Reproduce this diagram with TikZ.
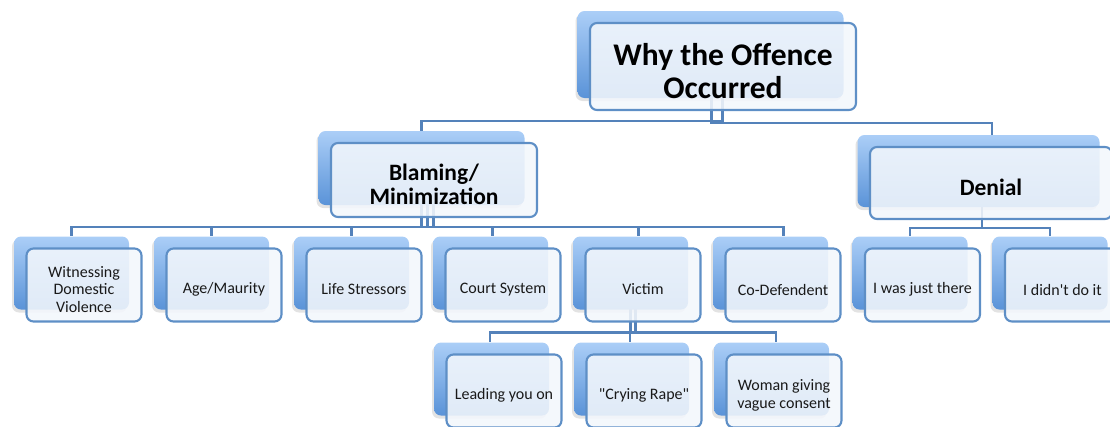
\documentclass[tikz,border=0pt]{standalone}
\usepackage{fontspec}
\setmainfont{Carlito}[Ligatures=TeXOff]
\usetikzlibrary{calc,shadows}

\definecolor{backtop}{HTML}{ABCEF7}
\definecolor{backbot}{HTML}{5A93D8}
\definecolor{edge}{HTML}{5E8FC6}
\definecolor{wire}{HTML}{5482BA}
\definecolor{face}{HTML}{F3F7FC}

\pgfdeclarelayer{wires}
\pgfsetlayers{wires,main}

\tikzset{
  backbox/.style={rounded corners=7pt, top color=backtop, bottom color=backbot,
    draw=none, inner sep=0pt,
    drop shadow={shadow xshift=-2pt, shadow yshift=-3pt, opacity=0.22}},
  frontbox/.style={rounded corners=7pt, draw=edge, line width=2.1pt, fill=face,
    fill opacity=0.88, inner sep=0pt},
  leaf/.style={font=\fontsize{16}{17.5}\selectfont, align=center, text=black!90},
  mid/.style={font=\bfseries\fontsize{23.5}{24}\selectfont, align=center},
  head/.style={font=\bfseries\fontsize{31.5}{33}\selectfont, align=center},
  link/.style={draw=wire, line width=2.4pt}
}

% tile: name, centre x, centre y, width, height, text style, text
\newcommand\tile[7]{%
  \node[backbox, minimum width=#4pt, minimum height=#5pt] (#1-b) at (#2-12.5,#3-12) {};
  \node[frontbox, minimum width=#4pt, minimum height=#5pt] (#1) at (#2,#3) {};
  \node[#6] (#1-t) at ([yshift=-4.5pt]#1.center) {#7};
}

\begin{document}
\begin{tikzpicture}[x=1pt,y=-1pt]
\useasboundingbox (0,0) rectangle (1110,426);

% root and first level
\tile{top}{723}{66.5}{266}{87}{head}{Why the Offence\\Occurred}
\tile{blame}{434}{180}{206}{74}{mid}{Blaming/\\Minimization}
\tile{den}{991}{183}{242}{72}{mid}{Denial}

% second level
\tile{wit}{84}{285}{115}{73}{leaf}{Witnessing\\Domestic\\Violence}
\tile{age}{224}{285}{115}{73}{leaf}{Age/Maurity}
\tile{life}{364}{285}{115}{73}{leaf}{Life Stressors}
\tile{court}{503}{285}{115}{73}{leaf}{Court System}
\tile{vic}{643}{285}{115}{73}{leaf}{Victim}
\tile{cod}{783}{285}{115}{73}{leaf}{Co-Defendent}
\tile{there}{922.5}{285}{115}{73}{leaf}{I was just there}
\tile{didnt}{1062.5}{285}{115}{73}{leaf}{I didn't do it}

% third level
\tile{lead}{504}{391}{115}{73}{leaf}{Leading you on}
\tile{cry}{644}{391}{115}{73}{leaf}{"Crying Rape"}
\tile{vague}{784}{391}{115}{73}{leaf}{Woman giving\\vague consent}

% elbow connectors, kept behind the tiles
\begin{pgfonlayer}{wires}
  \draw[link] ([xshift=12pt]top-b.center) |- ($(top.south)!.5!(blame-b.north)$) -| (blame-b.north);
  \draw[link] ([xshift=1pt]top-b.center) |- ($(top.south)!.5!(den-b.north)$) -| ([xshift=13.5pt]den-b.north);

  \draw[link] (blame-b.center) |- ($(blame.south)!.5!(wit-b.north)$) -| (wit-b.north);
  \draw[link] (blame-b.center) |- ($(blame.south)!.5!(age-b.north)$) -| (age-b.north);
  \draw[link] ([xshift=6pt]blame-b.center) |- ($(blame.south)!.5!(life-b.north)$) -| (life-b.north);
  \draw[link] ([xshift=6pt]blame-b.center) |- ($(blame.south)!.5!(court-b.north)$) -| ([xshift=2pt]court-b.north);
  \draw[link] ([xshift=12pt]blame-b.center) |- ($(blame.south)!.5!(vic-b.north)$) -| ([xshift=8pt]vic-b.north);
  \draw[link] ([xshift=12pt]blame-b.center) |- ($(blame.south)!.5!(cod-b.north)$) -| ([xshift=13pt]cod-b.north);

  \draw[link] ([xshift=3.5pt]den-b.center) |- ($(den.south)!.5!(there-b.north)$) -| (there-b.north);
  \draw[link] ([xshift=3.5pt]den-b.center) |- ($(den.south)!.5!(didnt-b.north)$) -| (didnt-b.north);

  \draw[link] (vic-b.center) |- ($(vic.south)!.5!(lead-b.north)$) -| ([xshift=-1.5pt]lead-b.north);
  \draw[link] (vic-b.center) |- ($(vic.south)!.5!(cry-b.north)$) -| ([xshift=-1.5pt]cry-b.north);
  \draw[link] ([xshift=5pt]vic-b.center) |- ($(vic.south)!.5!(vague-b.north)$) -| ([xshift=4.5pt]vague-b.north);
\end{pgfonlayer}
\end{tikzpicture}
\end{document}
